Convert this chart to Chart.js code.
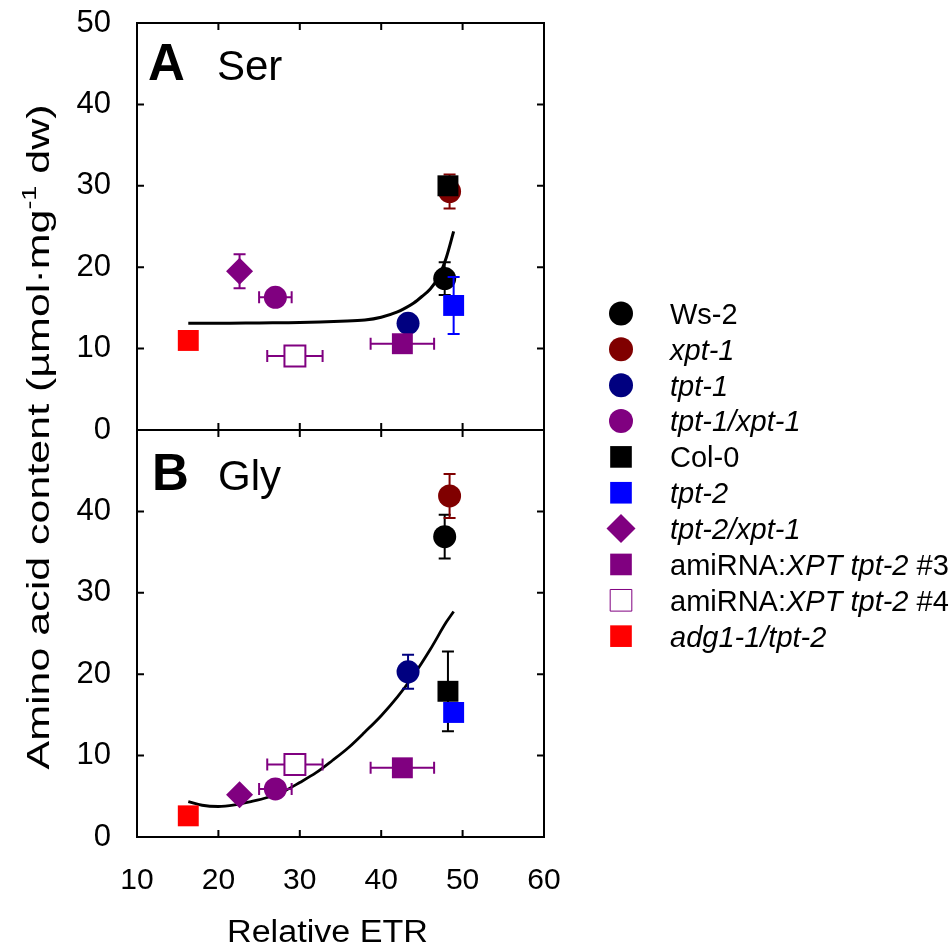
<!DOCTYPE html>
<html>
<head>
<meta charset="utf-8">
<title>Amino acid content vs relative ETR</title>
<script src="https://cdn.jsdelivr.net/npm/chart.js@4.4.1/dist/chart.umd.min.js"></script>
<style>
  html, body { margin: 0; padding: 0; background: #fff; }
  #wrap { position: relative; width: 950px; height: 947px; }
</style>
</head>
<body>
<div id="wrap"><canvas id="chart" width="950" height="947"></canvas></div>
<script>
// -----------------------------
// Data
// -----------------------------
const genotypes = ["Ws-2", "xpt-1", "tpt-1", "tpt-1/xpt-1", "Col-0", "tpt-2",
  "tpt-2/xpt-1", "amiRNA:XPT tpt-2 #3", "amiRNA:XPT tpt-2 #4", "adg1-1/tpt-2"];

// legend text split in [text, italic] runs
const legendRuns = [
  [["Ws-2", false]],
  [["xpt-1", true]],
  [["tpt-1", true]],
  [["tpt-1/xpt-1", true]],
  [["Col-0", false]],
  [["tpt-2", true]],
  [["tpt-2/xpt-1", true]],
  [["amiRNA:", false], ["XPT tpt-2", true], [" #3", false]],
  [["amiRNA:", false], ["XPT tpt-2", true], [" #4", false]],
  [["adg1-1/tpt-2", true]]
];

const relETR    = [47.8, 48.4, 43.3, 27.0, 48.2, 48.9, 22.6, 42.6, 29.4, 16.3];
const relETRErr = [0, 0, 0, 2.0, 0, 0, 0, 3.9, 3.4, 0];

const serContent = [18.6, 29.3, 13.1, 16.3, 30.0, 15.3, 19.5, 10.6, 9.1, 11.0];
const serErr     = [2.0, 2.1, 0, 0, 0, 3.5, 2.1, 0, 0, 0];

const glyContent = [36.9, 41.9, 20.3, 5.9, 17.9, 15.3, 5.2, 8.5, 8.9, 2.6];
const glyErr     = [2.7, 2.7, 2.1, 0, 4.9, 0, 0, 0, 0, 0];

// fitted curves, sampled along the drawn line
const serFitX = [16.3, 20, 25, 30, 35, 38, 40, 42, 43, 44, 45, 46, 47, 48, 48.9];
const serFitY = [13.1, 13.1, 13.15, 13.2, 13.35, 13.5, 13.85, 14.5, 15.0, 15.6, 16.4, 17.3, 18.7, 21.2, 24.4];

const glyFitX = [16.3, 18, 20, 22, 24, 26, 28, 30, 32, 34, 36, 38, 40, 42, 44, 46, 48, 48.9];
const glyFitY = [4.35, 3.9, 3.75, 3.95, 4.35, 4.85, 5.6, 6.7, 7.9, 9.4, 11.0, 12.9, 14.9, 17.2, 19.9, 23.0, 26.4, 27.7];

const xTicks = [10, 20, 30, 40, 50, 60];
const yTicks = [0, 10, 20, 30, 40, 50];


// -----------------------------
// Styles
// -----------------------------
const colors = ["#000000", "#800000", "#000080", "#800080", "#000000",
  "#0000ff", "#800080", "#800080", "#800080", "#ff0000"];
const shapes = ["circle", "circle", "circle", "circle", "rect",
  "rect", "rectRot", "rect", "rect", "rect"];
const hollow = [false, false, false, false, false, false, false, false, true, false];

const FONT = "'Liberation Sans', Arial, Helvetica, sans-serif";

function radiusFor(shape) {
  if (shape === "circle") return 11.5;
  if (shape === "rectRot") return 13.5;
  return 14.8;
}

function pointDataset(i, y, err, axis) {
  return {
    label: genotypes[i],
    data: [{ x: relETR[i], y: y[i] }],
    yAxisID: axis,
    errX: relETRErr[i],
    errY: err[i],
    pointStyle: shapes[i],
    pointRadius: radiusFor(shapes[i]),
    backgroundColor: hollow[i] ? "#ffffff" : colors[i],
    borderColor: colors[i],
    borderWidth: hollow[i] ? 2 : 0,
    showLine: false,
    order: genotypes.length - i
  };
}

function curveDataset(xs, ys, axis, width) {
  return {
    label: "fit",
    data: xs.map((x, j) => ({ x: x, y: ys[j] })),
    yAxisID: axis,
    showLine: true,
    pointRadius: 0,
    borderColor: "#000",
    borderWidth: width,
    cubicInterpolationMode: "monotone",
    fill: false,
    order: 100
  };
}

const datasets = [];
datasets.push(curveDataset(serFitX, serFitY, "yA", 3));
datasets.push(curveDataset(glyFitX, glyFitY, "yB", 2.8));
genotypes.forEach((g, i) => {
  datasets.push(pointDataset(i, serContent, serErr, "yA"));
  datasets.push(pointDataset(i, glyContent, glyErr, "yB"));
});


// -----------------------------
// Error bars (drawn just before each dataset)
// -----------------------------
const errorBars = {
  id: "errorBars",
  beforeDatasetDraw(chart, args) {
    const ds = chart.data.datasets[args.index];
    if (!ds.errX && !ds.errY) return;
    const ctx = chart.ctx;
    const xs = chart.scales.x;
    const ys = chart.scales[ds.yAxisID];
    const cap = 6;
    ctx.save();
    ctx.strokeStyle = ds.borderColor;
    ctx.lineWidth = 2;
    ds.data.forEach(p => {
      const px = xs.getPixelForValue(p.x);
      const py = ys.getPixelForValue(p.y);
      ctx.beginPath();
      if (ds.errY) {
        const t = ys.getPixelForValue(p.y + ds.errY);
        const b = ys.getPixelForValue(p.y - ds.errY);
        ctx.moveTo(px, t); ctx.lineTo(px, b);
        ctx.moveTo(px - cap, t); ctx.lineTo(px + cap, t);
        ctx.moveTo(px - cap, b); ctx.lineTo(px + cap, b);
      }
      if (ds.errX) {
        const l = xs.getPixelForValue(p.x - ds.errX);
        const r = xs.getPixelForValue(p.x + ds.errX);
        ctx.moveTo(l, py); ctx.lineTo(r, py);
        ctx.moveTo(l, py - cap); ctx.lineTo(l, py + cap);
        ctx.moveTo(r, py - cap); ctx.lineTo(r, py + cap);
      }
      ctx.stroke();
    });
    ctx.restore();
  }
};


// -----------------------------
// Frame, inward ticks, panel labels, titles, legend
// -----------------------------
function drawRuns(ctx, runs, x, y, size) {
  runs.forEach(r => {
    ctx.font = (r[1] ? "italic " : "") + size + "px " + FONT;
    ctx.fillText(r[0], x, y);
    x += ctx.measureText(r[0]).width;
  });
}

const decorations = {
  id: "decorations",
  afterDatasetsDraw(chart) {
    const ctx = chart.ctx;
    const xs = chart.scales.x;
    const area = chart.chartArea;
    const tl = 7;

    ctx.save();
    ctx.strokeStyle = "#000";
    ctx.lineWidth = 2;

    ["yA", "yB"].forEach(id => {
      const ys = chart.scales[id];
      const top = ys.getPixelForValue(50);
      const bot = ys.getPixelForValue(0);
      ctx.strokeRect(area.left, top, area.right - area.left, bot - top);

      ctx.beginPath();
      yTicks.forEach(v => {
        if (v === 0 || v === 50) return;
        const py = ys.getPixelForValue(v);
        ctx.moveTo(area.left, py); ctx.lineTo(area.left + tl, py);
        ctx.moveTo(area.right, py); ctx.lineTo(area.right - tl, py);
      });
      xTicks.forEach(v => {
        if (v === 10 || v === 60) return;
        const px = xs.getPixelForValue(v);
        ctx.moveTo(px, top); ctx.lineTo(px, top + tl);
        ctx.moveTo(px, bot); ctx.lineTo(px, bot - tl);
      });
      ctx.stroke();
    });

    // panel letters
    ctx.fillStyle = "#000";
    ctx.textBaseline = "alphabetic";
    ctx.textAlign = "left";
    const yA = chart.scales.yA, yB = chart.scales.yB;
    ctx.font = "bold 51px " + FONT;
    ctx.fillText("A", area.left + 11, yA.top + 57);
    ctx.font = "42px " + FONT;
    ctx.fillText("Ser", area.left + 80, yA.top + 57);
    ctx.font = "bold 51px " + FONT;
    ctx.fillText("B", area.left + 15, yB.top + 60);
    ctx.font = "42px " + FONT;
    ctx.fillText("Gly", area.left + 81, yB.top + 60);

    ctx.restore();
  },

  afterDraw(chart) {
    const ctx = chart.ctx;
    const area = chart.chartArea;
    ctx.save();
    ctx.fillStyle = "#000";
    ctx.textAlign = "left";
    ctx.textBaseline = "alphabetic";

    // y title, rotated, with superscript
    const fs = 32;
    const parts = [
      ["Amino acid content (\u00b5mol\u00b7mg", fs, 0],
      ["-1", 20, -13],
      [" dw)", fs, 0]
    ];
    let total = 0;
    parts.forEach(p => { ctx.font = p[1] + "px " + FONT; total += ctx.measureText(p[0]).width; });
    const stretch = 665 / total;
    ctx.translate(area.left - 99, (area.top + area.bottom) / 2 + 7);
    ctx.rotate(-Math.PI / 2);
    ctx.scale(stretch, 1);
    let x = -total / 2;
    parts.forEach(p => {
      ctx.font = p[1] + "px " + FONT;
      ctx.fillText(p[0], x, 0.358 * fs + p[2]);
      x += ctx.measureText(p[0]).width;
    });
    ctx.setTransform(1, 0, 0, 1, 0, 0);

    // x title
    ctx.font = "31px " + FONT;
    const xt = "Relative ETR";
    const w = ctx.measureText(xt).width;
    const sx = 201 / w;
    ctx.translate(area.left + 190.5, 941.5);
    ctx.scale(sx, 1);
    ctx.textAlign = "center";
    ctx.fillText(xt, 0, 0);
    ctx.setTransform(1, 0, 0, 1, 0, 0);

    // legend
    ctx.textAlign = "left";
    const sym = { circle: 12, rect: 15.3, rectRot: 14.5 };
    genotypes.forEach((g, i) => {
      const cy = 313.5 + i * 35.85;
      ctx.fillStyle = hollow[i] ? "#ffffff" : colors[i];
      ctx.strokeStyle = colors[i];
      Chart.helpers.drawPoint(ctx, {
        pointStyle: shapes[i],
        rotation: 0,
        radius: sym[shapes[i]],
        borderWidth: hollow[i] ? 2 : 0
      }, 621, cy);
      ctx.fillStyle = "#000";
      drawRuns(ctx, legendRuns[i], 670, cy + 10.4, 29);
    });
    ctx.restore();
  }
};


// -----------------------------
// Chart
// -----------------------------
function yScale(hideTop) {
  return {
    type: "linear",
    position: "left",
    stack: "panels",
    stackWeight: 1,
    min: 0,
    max: 50,
    grid: { display: false },
    border: { display: false },
    ticks: {
      stepSize: 10,
      padding: 18,
      color: "#000",
      font: { family: FONT, size: 31 },
      callback: v => (hideTop && v === 50) ? "" : v
    },
    afterFit: s => {
      s.width = 137;
      s.paddingTop = 0;
      s.paddingBottom = 0;
    }
  };
}

new Chart(document.getElementById("chart").getContext("2d"), {
  type: "scatter",
  data: { datasets: datasets },
  options: {
    responsive: false,
    animation: false,
    events: [],
    layout: { padding: { left: 0, top: 23, right: 406, bottom: 0 } },
    plugins: {
      legend: { display: false },
      tooltip: { enabled: false }
    },
    scales: {
      x: {
        type: "linear",
        position: "bottom",
        min: 10,
        max: 60,
        grid: { display: false },
        border: { display: false },
        ticks: { stepSize: 10, padding: 18, color: "#000", font: { family: FONT, size: 30 } },
        afterFit: s => {
          s.height = 110;
          s.paddingLeft = 0;
          s.paddingRight = 0;
        }
      },
      // stacked scales are laid out bottom to top in this order
      yB: yScale(true),
      yA: yScale(false)
    }
  },
  plugins: [errorBars, decorations]
});
</script>
</body>
</html>
